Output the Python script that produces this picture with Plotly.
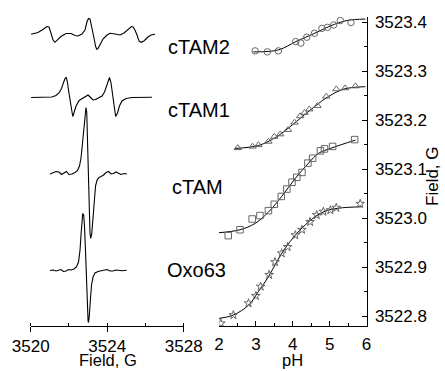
import plotly.graph_objects as go

# ---------------- EPR spectra (left panel) ----------------
# field in G, intensity in arbitrary units (baseline = 0)
ctam2_field = [3520.02, 3520.38, 3520.64, 3520.85, 3520.96, 3521.06, 3521.17, 3521.27, 3521.43, 3521.58,
               3521.85, 3522.11, 3522.32, 3522.47, 3522.68, 3522.84, 3522.94, 3523.02, 3523.10, 3523.20,
               3523.31, 3523.39, 3523.45, 3523.52, 3523.62, 3523.78, 3523.99, 3524.15, 3524.41, 3524.67,
               3524.88, 3525.09, 3525.27, 3525.35, 3525.45, 3525.56, 3525.66, 3525.77, 3525.92, 3526.13,
               3526.29, 3526.50]
ctam2_int = [0, 1.8, 4.8, 7.8, 7.3, 1.3, -5.7, -8, -5.2, -2.2,
             0.8, 0.8, -1.2, -1.7, 0.3, 4.3, 12.3, 15.8, 15.3, 7.3,
             -3.7, -11.7, -15, -14.2, -10.7, -4.7, -0.7, 1, 0.3, -0.7,
             1.3, 4.3, 7.8, 7.3, 4.3, -0.7, -6.7, -8, -6.7, -2.7,
             -0.7, 0]

ctam1_field = [3520.02, 3520.75, 3521.11, 3521.32, 3521.48, 3521.61, 3521.71, 3521.79, 3521.86, 3521.92,
               3522.00, 3522.08, 3522.16, 3522.20, 3522.26, 3522.37, 3522.53, 3522.68, 3522.84, 3523.00,
               3523.13, 3523.26, 3523.39, 3523.57, 3523.73, 3523.86, 3523.96, 3524.06, 3524.12, 3524.20,
               3524.28, 3524.35, 3524.44, 3524.54, 3524.64, 3524.77, 3524.98, 3525.30, 3525.71, 3526.34]
ctam1_int = [-0.1, 0.1, 0.4, 1.9, 4.4, 8.9, 15.4, 18.9, 19.9, 15.4,
             4.4, -6.6, -16.6, -19.1, -15.6, -8.6, -3.1, -1.1, 0.9, 2.4,
             -0.1, -2.6, -2.1, -0.1, 1.4, 5.4, 11.4, 17.9, 19.9, 14.4,
             4.4, -8.6, -19.1, -15.6, -8.6, -3.6, -1.1, -0.1, 0.1, 0.1]

ctam_field = [3521.01, 3521.17, 3521.32, 3521.48, 3521.61, 3521.74, 3521.87, 3522.00, 3522.16, 3522.32,
              3522.45, 3522.55, 3522.63, 3522.71, 3522.79, 3522.85, 3522.89, 3522.93, 3522.97, 3523.01,
              3523.06, 3523.10, 3523.14, 3523.19, 3523.25, 3523.31, 3523.39, 3523.47, 3523.57, 3523.68,
              3523.81, 3523.94, 3524.07, 3524.20, 3524.33, 3524.46, 3524.59, 3524.72, 3524.88, 3525.03]
ctam_int = [-0.5, 0.5, 2, 1.5, -1, 0.5, 2, -1, -0.5, 1,
            3, 7.5, 15.5, 30.5, 49.5, 62.5, 66, 61.5, 33.5, -6.5,
            -41.5, -59.5, -65, -60.5, -46.5, -26.5, -12.5, -6.5, -4, -3,
            -1.5, 1, 2, -0.5, 0, 1.5, 0, -1, 0, -0.5]

oxo63_field = [3521.01, 3521.17, 3521.32, 3521.45, 3521.58, 3521.71, 3521.85, 3521.98, 3522.11, 3522.26,
               3522.39, 3522.50, 3522.58, 3522.63, 3522.68, 3522.72, 3522.77, 3522.81, 3522.86, 3522.92,
               3522.96, 3523.00, 3523.02, 3523.06, 3523.12, 3523.18, 3523.26, 3523.36, 3523.52, 3523.68,
               3523.83, 3523.99, 3524.15, 3524.30, 3524.46, 3524.62, 3524.77, 3525.02]
oxo63_int = [0, 0.5, -0.5, 0, 1, -1, -0.5, 1, 0.5, 1.5,
             3.5, 8.5, 20.5, 35.5, 50.5, 57, 55.5, 45.5, 22.5, -14.5,
             -39.5, -50.5, -52, -46.5, -29.5, -14.5, -6.5, -2.5, -1, -0.5,
             0.5, 1, -0.5, -0.5, 0.5, 0, -0.3, 0.2]

spectrum_names = ["cTAM2", "cTAM1", "cTAM", "Oxo63"]
spectrum_offsets = [291.7, 228.6, 152.5, 55.5]

# ---------------- pH titration (right panel) ----------------
ctam2_ph = [2.98, 3.31, 3.61, 4.08, 4.22, 4.38, 4.59, 4.79, 4.94, 5.11, 5.29, 5.58]
ctam2_val = [3523.341, 3523.339, 3523.341, 3523.360, 3523.357, 3523.369, 3523.377, 3523.387,
             3523.389, 3523.394, 3523.403, 3523.399]
ctam2_fit_ph = [2.93, 3.61, 4.11, 4.57, 5.02, 5.47, 5.97]
ctam2_fit_val = [3523.339, 3523.343, 3523.361, 3523.376, 3523.392, 3523.403, 3523.406]

ctam1_ph = [2.51, 2.91, 3.07, 3.34, 3.50, 3.66, 3.87, 4.05, 4.20, 4.32, 4.45, 4.67, 4.91, 5.18, 5.42, 5.70]
ctam1_val = [3523.143, 3523.146, 3523.149, 3523.156, 3523.166, 3523.171, 3523.180, 3523.195,
             3523.208, 3523.215, 3523.222, 3523.229, 3523.248, 3523.263, 3523.265, 3523.269]
ctam1_fit_ph = [2.43, 3.07, 3.57, 4.02, 4.47, 4.93, 5.38, 5.97]
ctam1_fit_val = [3523.142, 3523.148, 3523.166, 3523.192, 3523.220, 3523.246, 3523.263, 3523.268]

ctam_ph = [2.25, 2.57, 2.90, 3.11, 3.34, 3.50, 3.69, 3.84, 3.98, 4.11, 4.25, 4.41, 4.54, 4.75, 4.86, 5.08, 5.68]
ctam_val = [3522.964, 3522.976, 3522.998, 3523.005, 3523.015, 3523.028, 3523.044, 3523.059, 3523.073,
            3523.083, 3523.093, 3523.112, 3523.122, 3523.137, 3523.141, 3523.146, 3523.160]
ctam_fit_ph = [2.00, 2.57, 2.98, 3.34, 3.70, 4.07, 4.43, 4.70, 5.06, 5.70]
ctam_fit_val = [3522.970, 3522.976, 3522.989, 3523.012, 3523.044, 3523.081, 3523.112, 3523.132,
                3523.143, 3523.159]

oxo63_ph = [2.05, 2.39, 2.80, 3.00, 3.13, 3.36, 3.52, 3.70, 3.86, 4.07, 4.25, 4.47, 4.65, 4.83, 5.02, 5.18, 5.83]
oxo63_val = [3522.785, 3522.802, 3522.826, 3522.841, 3522.860, 3522.884, 3522.910, 3522.928, 3522.941,
             3522.965, 3522.976, 3522.992, 3523.006, 3523.013, 3523.016, 3523.021, 3523.029]
oxo63_fit_ph = [2.00, 2.39, 2.80, 3.07, 3.34, 3.57, 3.79, 4.07, 4.34, 4.61, 4.88, 5.24, 5.88]
oxo63_fit_val = [3522.795, 3522.802, 3522.822, 3522.850, 3522.880, 3522.911, 3522.938, 3522.965,
                 3522.986, 3523.003, 3523.014, 3523.020, 3523.023]

FONT = "Liberation Sans, Arial, sans-serif"
W, H = 445, 371

fig = go.Figure()

spectra = [(ctam2_field, ctam2_int), (ctam1_field, ctam1_int), (ctam_field, ctam_int), (oxo63_field, oxo63_int)]
for (fx, fy), off, name in zip(spectra, spectrum_offsets, spectrum_names):
    fig.add_trace(go.Scatter(x=fx, y=[v + off for v in fy], mode="lines",
                             line=dict(color="black", width=1.1), name=name,
                             xaxis="x", yaxis="y", showlegend=False, hoverinfo="skip"))

titr = [
    (ctam2_ph, ctam2_val, ctam2_fit_ph, ctam2_fit_val, "circle-open"),
    (ctam1_ph, ctam1_val, ctam1_fit_ph, ctam1_fit_val, "triangle-up-open"),
    (ctam_ph, ctam_val, ctam_fit_ph, ctam_fit_val, "square-open"),
    (oxo63_ph, oxo63_val, oxo63_fit_ph, oxo63_fit_val, "star-open"),
]
for px, py, fx, fy, sym in titr:
    fig.add_trace(go.Scatter(x=fx, y=fy, mode="lines", line=dict(color="black", width=1, shape="spline"),
                             xaxis="x2", yaxis="y2", showlegend=False, hoverinfo="skip"))
    fig.add_trace(go.Scatter(x=px, y=py, mode="markers",
                             marker=dict(symbol=sym, size=6.5, color="#666666", line=dict(color="#666666", width=1)),
                             xaxis="x2", yaxis="y2", showlegend=False))

ydom = [45 / H, 354 / H]
tickfont = dict(family=FONT, size=17, color="black")

fig.update_layout(
    width=W, height=H,
    margin=dict(l=0, r=0, t=0, b=0, autoexpand=False),
    paper_bgcolor="white", plot_bgcolor="white",
    font=dict(family=FONT, color="black"),
    xaxis=dict(domain=[30.7 / W, 183.7 / W], range=[3520, 3528], anchor="y",
               showgrid=False, zeroline=False, showline=True, linecolor="black", linewidth=1,
               ticks="outside", ticklen=5, tickwidth=1, tickcolor="black", dtick=4, tick0=3520,
               tickformat="d", tickfont=tickfont,
               minor=dict(dtick=2, ticks="inside", ticklen=3, tickcolor="black", showgrid=False)),
    yaxis=dict(domain=ydom, range=[0, 309], visible=False, anchor="x"),
    xaxis2=dict(domain=[219 / W, 366.5 / W], range=[2, 6], anchor="y2",
                showgrid=False, zeroline=False, showline=True, linecolor="black", linewidth=1,
                ticks="inside", ticklen=5, tickwidth=1, tickcolor="black", dtick=1, tick0=2,
                tickfont=tickfont, ticklabelstandoff=3,
                minor=dict(dtick=0.5, ticks="inside", ticklen=3, tickcolor="black", showgrid=False)),
    yaxis2=dict(domain=ydom, range=[3522.7796, 3523.4102], anchor="x2", side="right",
                showgrid=False, zeroline=False, showline=True, linecolor="black", linewidth=1,
                ticks="inside", ticklen=5, tickwidth=1, tickcolor="black", dtick=0.1, tick0=3522.8,
                tickformat=".1f", tickfont=tickfont, ticklabelstandoff=4,
                minor=dict(dtick=0.05, ticks="inside", ticklen=3, tickcolor="black", showgrid=False)),
)

label_pos = [(166, 46.5), (166, 110.5), (170, 187), (165, 270)]
for name, (lx, ly) in zip(spectrum_names, label_pos):
    fig.add_annotation(text=name, x=lx / W, y=1 - ly / H, xref="paper", yref="paper",
                       xanchor="left", yanchor="middle", showarrow=False,
                       font=dict(family=FONT, size=20, color="black"))

fig.add_annotation(text="Field, G", x=107.5 / W, y=1 - 360 / H, xref="paper", yref="paper",
                   xanchor="center", yanchor="middle", showarrow=False, borderpad=0,
                   font=dict(family=FONT, size=16.5, color="black"))
fig.add_annotation(text="pH", x=292 / W, y=1 - 360 / H, xref="paper", yref="paper",
                   xanchor="center", yanchor="middle", showarrow=False, borderpad=0,
                   font=dict(family=FONT, size=16.5, color="black"))
fig.add_annotation(text="Field, G", x=432 / W, y=1 - 176 / H, xref="paper", yref="paper",
                   xanchor="center", yanchor="middle", showarrow=False, textangle=-90,
                   font=dict(family=FONT, size=17, color="black"))

fig.write_html("out.html", config={"displayModeBar": False},
               post_script="document.body.style.margin='0px';document.body.style.overflow='hidden';")
